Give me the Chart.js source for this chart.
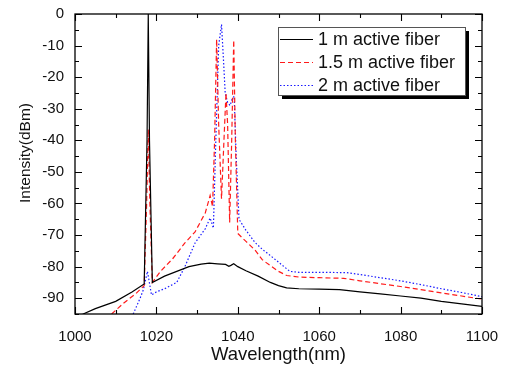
<!DOCTYPE html>
<html>
<head>
<meta charset="utf-8">
<script src="https://cdn.jsdelivr.net/npm/chart.js@4"></script>
<style>
  body { margin: 0; background: #fff; }
  #wrap { width: 505px; height: 366px; position: relative; }
</style>
</head>
<body>
<div id="wrap"><canvas id="grafico"></canvas></div>
<script>
const FUENTE = "'Liberation Sans', Arial, sans-serif";

const etiquetas = ["1 m active fiber", "1.5 m active fiber", "2 m active fiber"];
const ticksX = [1000, 1020, 1040, 1060, 1080, 1100];
const ticksY = [0, -10, -20, -30, -40, -50, -60, -70, -80, -90];

// 1 m active fiber
const onda1 = [1000, 1002, 1005, 1010, 1014, 1017, 1017.7, 1018, 1018.3, 1019, 1022, 1025, 1028, 1031, 1033, 1035, 1037, 1037.8, 1038.3, 1039, 1040, 1042, 1045, 1048, 1050, 1052, 1055, 1060, 1065, 1070, 1075, 1080, 1085, 1090, 1095, 1100];
const dbm1 = [-96, -95, -93.3, -91, -88, -85.5, -40, 0, -40, -85, -83, -81.5, -80, -79.2, -78.9, -79.1, -79.3, -79.9, -79.6, -79.1, -80, -81.3, -83, -85, -86, -86.7, -87, -87.1, -87.3, -88, -88.6, -89.3, -90, -91, -91.8, -92.6];

// 1.5 m active fiber
const onda2 = [1009, 1012, 1015, 1017, 1017.6, 1018, 1018.4, 1019, 1021, 1024, 1027, 1029.5, 1032, 1033.2, 1033.8, 1034.3, 1034.8, 1035.3, 1036, 1036.6, 1037.1, 1037.5, 1038, 1038.5, 1039, 1039.4, 1040, 1042, 1044.2, 1046, 1048, 1050, 1052, 1055, 1060, 1066, 1070, 1075, 1080, 1085, 1090, 1095, 1100];
const dbm2 = [-95, -91.5, -88.5, -86, -60, -36.5, -60, -85, -81.5, -77.5, -72.5, -69, -63, -57.5, -61, -40, -8, -35, -58.5, -40, -25, -35, -66, -40, -8.3, -40, -69.5, -72, -74.7, -77.8, -79.7, -81.5, -82.8, -83.3, -83.5, -83.7, -84.5, -85.4, -86.3, -87.3, -88.3, -89.3, -90.3];

// 2 m active fiber
const onda3 = [1014.3, 1016, 1016.8, 1017.8, 1018.8, 1020, 1022, 1025, 1027, 1029.5, 1032, 1033.2, 1034, 1034.6, 1035.3, 1036, 1036.5, 1036.9, 1037.5, 1038.1, 1038.6, 1039.1, 1039.6, 1040.3, 1042, 1044.2, 1046, 1048, 1050.4, 1052.8, 1055, 1060, 1066.8, 1070, 1075, 1080, 1085, 1090, 1095, 1100];
const dbm3 = [-95, -90, -87.3, -81.5, -89, -88, -87, -85, -80, -72.5, -68, -64.6, -67.8, -40, -10, -3.3, -15, -25, -28, -29, -27, -26, -45, -65, -68.5, -72.3, -74.5, -76.5, -79, -81.5, -81.8, -81.8, -81.9, -82.5, -83.5, -84.5, -85.7, -87, -88.2, -89.5];

function puntos(xs, ys) {
    return xs.map((x, i) => ({ x: x, y: ys[i] }));
}

const estilos = [
    { color: "#000000", dash: [] },
    { color: "#ff1a1a", dash: [5, 3] },
    { color: "#1a1aff", dash: [1.5, 2] }
];

// marco, ticks interiores, titulos y leyenda
const decoracion = {
    id: "decoracion",
    afterDraw(chart) {
        const ctx = chart.ctx;
        const a = chart.chartArea;
        const sx = chart.scales.x;
        const sy = chart.scales.y;
        ctx.save();
        ctx.strokeStyle = "#000";
        ctx.lineWidth = 1.3;
        ctx.strokeRect(a.left, a.top, a.right - a.left, a.bottom - a.top);

        ctx.lineWidth = 1.1;
        ctx.beginPath();
        for (let v = 1000; v <= 1100; v += 10) {
            const px = Math.round(sx.getPixelForValue(v)) + 0.5;
            const largo = v % 20 === 0 ? 7 : 4;
            ctx.moveTo(px, a.bottom); ctx.lineTo(px, a.bottom - largo);
            ctx.moveTo(px, a.top); ctx.lineTo(px, a.top + largo);
        }
        for (let v = 0; v >= -95; v -= 5) {
            const py = Math.round(sy.getPixelForValue(v)) + 0.5;
            const largo = v % 10 === 0 ? 7 : 4;
            ctx.moveTo(a.left, py); ctx.lineTo(a.left + largo, py);
            ctx.moveTo(a.right, py); ctx.lineTo(a.right - largo, py);
        }
        ctx.stroke();

        // titulos de ejes
        ctx.fillStyle = "#111";
        ctx.font = "18.5px " + FUENTE;
        ctx.textAlign = "center";
        ctx.textBaseline = "alphabetic";
        ctx.fillText("Wavelength(nm)", (a.left + a.right) / 2, 360);
        ctx.save();
        ctx.translate(30, 153);
        ctx.rotate(-Math.PI / 2);
        ctx.font = "15.5px " + FUENTE;
        ctx.fillText("Intensity(dBm)", 0, 0);
        ctx.restore();

        // leyenda
        const lx = 278, ly = 27, lw = 187, lh = 68;
        ctx.fillStyle = "#000";
        ctx.fillRect(lx + 4, ly + 4, lw, lh);
        ctx.fillStyle = "#fff";
        ctx.fillRect(lx, ly, lw, lh);
        ctx.strokeStyle = "#555";
        ctx.lineWidth = 1;
        ctx.strokeRect(lx + 0.5, ly + 0.5, lw, lh);
        ctx.font = "18px " + FUENTE;
        ctx.textAlign = "left";
        ctx.textBaseline = "middle";
        chart.data.datasets.forEach((ds, i) => {
            const fy = 39.5 + i * 23;
            ctx.strokeStyle = ds.borderColor;
            ctx.lineWidth = 1.2;
            ctx.setLineDash(ds.borderDash);
            ctx.beginPath();
            ctx.moveTo(280, fy); ctx.lineTo(313, fy);
            ctx.stroke();
            ctx.setLineDash([]);
            ctx.fillStyle = "#111";
            ctx.fillText(ds.label, 318, fy + 1);
        });
        ctx.restore();
    }
};

const ctx = document.getElementById("grafico").getContext("2d");
new Chart(ctx, {
    type: "scatter",
    data: {
        datasets: [
            { label: etiquetas[0], data: puntos(onda1, dbm1) },
            { label: etiquetas[1], data: puntos(onda2, dbm2) },
            { label: etiquetas[2], data: puntos(onda3, dbm3) }
        ].map((ds, i) => Object.assign(ds, {
            showLine: true,
            borderColor: estilos[i].color,
            borderDash: estilos[i].dash,
            borderWidth: 1.2,
            pointRadius: 0,
            tension: 0
        }))
    },
    options: {
        responsive: true,
        maintainAspectRatio: false,
        animation: false,
        layout: { padding: { top: 14, right: 23, left: 0, bottom: 0 } },
        plugins: {
            legend: { display: false },
            tooltip: { enabled: false }
        },
        scales: {
            x: {
                type: "linear",
                min: 1000,
                max: 1100,
                grid: { display: false },
                border: { display: false },
                afterBuildTicks: (s) => { s.ticks = ticksX.map(v => ({ value: v })); },
                afterFit: (s) => { s.height = 52; },
                ticks: {
                    padding: 6,
                    color: "#111",
                    font: { family: FUENTE, size: 15 },
                    maxRotation: 0,
                    callback: (v) => String(v)
                }
            },
            y: {
                type: "linear",
                min: -95,
                max: 0,
                grid: { display: false },
                border: { display: false },
                afterBuildTicks: (s) => { s.ticks = ticksY.map(v => ({ value: v })); },
                afterFit: (s) => { s.width = 75; },
                ticks: {
                    padding: 3,
                    color: "#111",
                    font: { family: FUENTE, size: 15 },
                    callback: (v) => String(v)
                }
            }
        }
    },
    plugins: [decoracion]
});
</script>
</body>
</html>
